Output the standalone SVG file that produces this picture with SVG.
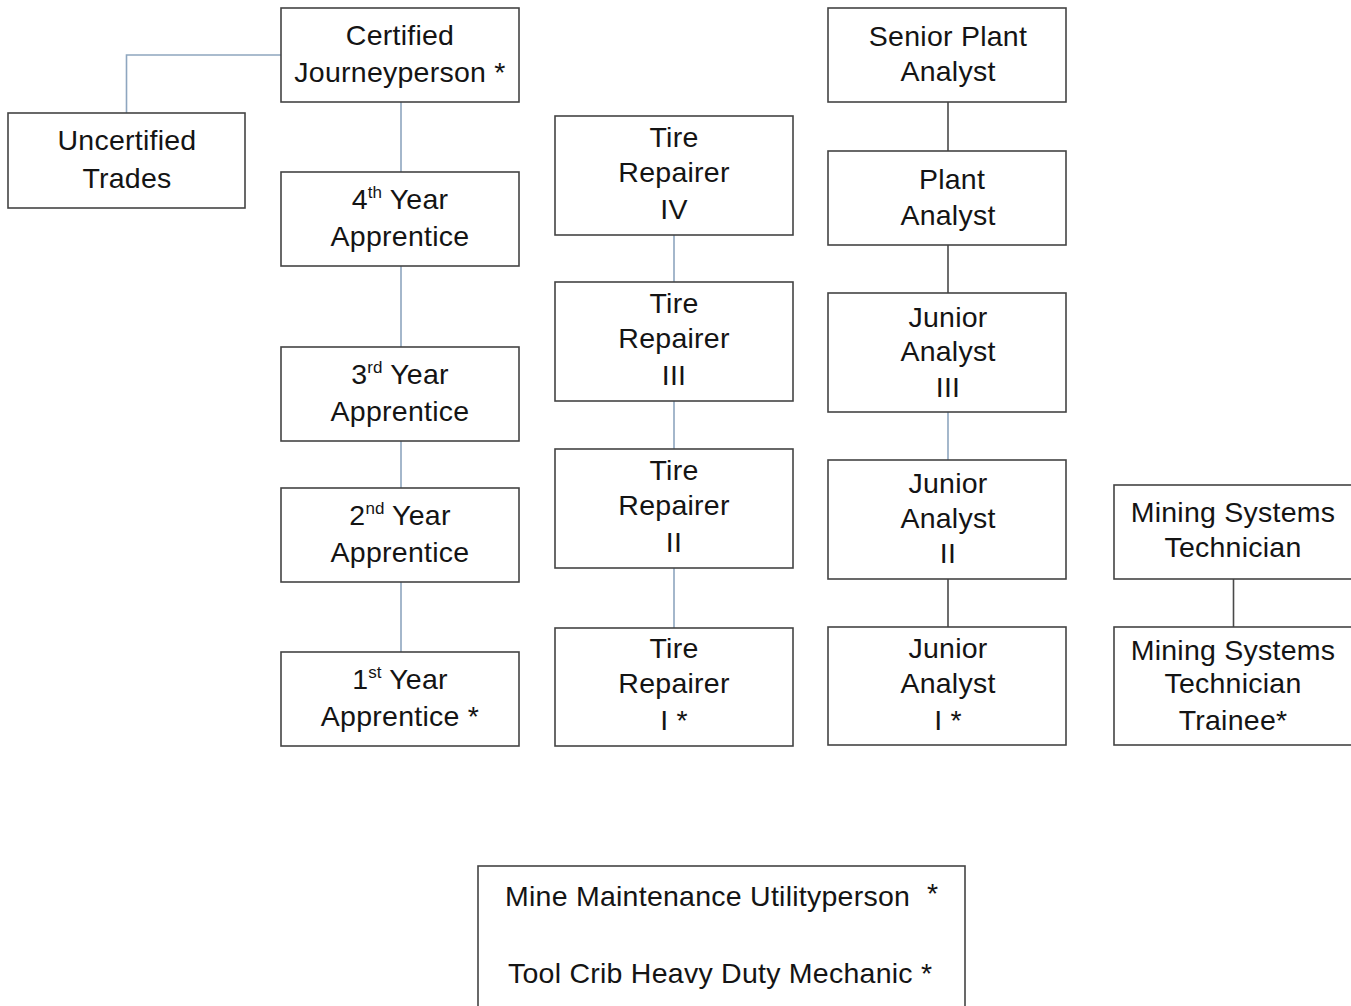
<svg xmlns="http://www.w3.org/2000/svg" width="1351" height="1006" viewBox="0 0 1351 1006">
<style>
.box{fill:#fff;stroke:#444;stroke-width:1.6}
.t{font-family:"Liberation Sans",Arial,sans-serif;font-size:28.5px;letter-spacing:0.25px;fill:#141414;text-anchor:middle}
.s{text-anchor:start}
.sup{font-size:17px;letter-spacing:0}
.cb{stroke:#8ea6bf;stroke-width:1.6;fill:none}
.cg{stroke:#4a4a4a;stroke-width:1.6;fill:none}
</style>
<rect width="1351" height="1006" fill="#fff"/>
<g id="connectors">
<path class="cb" d="M281,55 H126.5 V113"/>
<path class="cb" d="M401,102 V172 M401,266 V347 M401,441 V488 M401,582 V652"/>
<path class="cb" d="M674,235 V282 M674,401 V449 M674,568 V628"/>
<path class="cg" d="M948,102 V151 M948,245 V293 M948,579 V627"/>
<path class="cb" d="M948,412 V460"/>
<path class="cg" d="M1233.5,579 V627"/>
</g>
<g id="certified-journeyperson"><rect class="box" x="281" y="8" width="238" height="94"/>
<text class="t" x="400" y="45">Certified</text><text class="t" x="400" y="82">Journeyperson *</text></g>
<g id="uncertified-trades"><rect class="box" x="8" y="113" width="237" height="95"/>
<text class="t" x="127" y="150">Uncertified</text><text class="t" x="127" y="188">Trades</text></g>
<g id="apprentice-4"><rect class="box" x="281" y="172" width="238" height="94"/>
<text class="t" x="400" y="209">4<tspan class="sup" dy="-11">th</tspan><tspan dy="11"> Year</tspan></text><text class="t" x="400" y="246">Apprentice</text></g>
<g id="apprentice-3"><rect class="box" x="281" y="347" width="238" height="94"/>
<text class="t" x="400" y="384">3<tspan class="sup" dy="-11">rd</tspan><tspan dy="11"> Year</tspan></text><text class="t" x="400" y="421">Apprentice</text></g>
<g id="apprentice-2"><rect class="box" x="281" y="488" width="238" height="94"/>
<text class="t" x="400" y="525">2<tspan class="sup" dy="-11">nd</tspan><tspan dy="11"> Year</tspan></text><text class="t" x="400" y="562">Apprentice</text></g>
<g id="apprentice-1"><rect class="box" x="281" y="652" width="238" height="94"/>
<text class="t" x="400" y="689">1<tspan class="sup" dy="-11">st</tspan><tspan dy="11"> Year</tspan></text><text class="t" x="400" y="726">Apprentice *</text></g>
<g id="tire-repairer-4"><rect class="box" x="555" y="116" width="238" height="119"/>
<text class="t" x="674" y="147">Tire</text><text class="t" x="674" y="182">Repairer</text><text class="t" x="674" y="219">IV</text></g>
<g id="tire-repairer-3"><rect class="box" x="555" y="282" width="238" height="119"/>
<text class="t" x="674" y="313">Tire</text><text class="t" x="674" y="348">Repairer</text><text class="t" x="674" y="385">III</text></g>
<g id="tire-repairer-2"><rect class="box" x="555" y="449" width="238" height="119"/>
<text class="t" x="674" y="480">Tire</text><text class="t" x="674" y="515">Repairer</text><text class="t" x="674" y="552">II</text></g>
<g id="tire-repairer-1"><rect class="box" x="555" y="628" width="238" height="118"/>
<text class="t" x="674" y="658">Tire</text><text class="t" x="674" y="693">Repairer</text><text class="t" x="674" y="730">I *</text></g>
<g id="senior-plant-analyst"><rect class="box" x="828" y="8" width="238" height="94"/>
<text class="t" x="948" y="46">Senior Plant</text><text class="t" x="948" y="81">Analyst</text></g>
<g id="plant-analyst"><rect class="box" x="828" y="151" width="238" height="94"/>
<text class="t" x="952" y="189">Plant</text><text class="t" x="948" y="225">Analyst</text></g>
<g id="junior-analyst-3"><rect class="box" x="828" y="293" width="238" height="119"/>
<text class="t" x="948" y="327">Junior</text><text class="t" x="948" y="361">Analyst</text><text class="t" x="948" y="397">III</text></g>
<g id="junior-analyst-2"><rect class="box" x="828" y="460" width="238" height="119"/>
<text class="t" x="948" y="493">Junior</text><text class="t" x="948" y="528">Analyst</text><text class="t" x="948" y="563">II</text></g>
<g id="junior-analyst-1"><rect class="box" x="828" y="627" width="238" height="118"/>
<text class="t" x="948" y="658">Junior</text><text class="t" x="948" y="693">Analyst</text><text class="t" x="948" y="730">I *</text></g>
<g id="mining-systems-technician"><rect class="box" x="1114" y="485" width="240" height="94"/>
<text class="t" x="1233" y="522">Mining Systems</text><text class="t" x="1233" y="557">Technician</text></g>
<g id="mining-systems-technician-trainee"><rect class="box" x="1114" y="627" width="240" height="118"/>
<text class="t" x="1233" y="660">Mining Systems</text><text class="t" x="1233" y="693">Technician</text><text class="t" x="1233" y="730">Trainee*</text></g>
<g id="other-positions"><rect class="box" x="478" y="866" width="487" height="150"/>
<text class="t s" x="505" y="906">Mine Maintenance Utilityperson</text><text class="t s" x="927" y="903">*</text>
<text class="t s" x="508" y="983">Tool Crib Heavy Duty Mechanic *</text></g>
</svg>
